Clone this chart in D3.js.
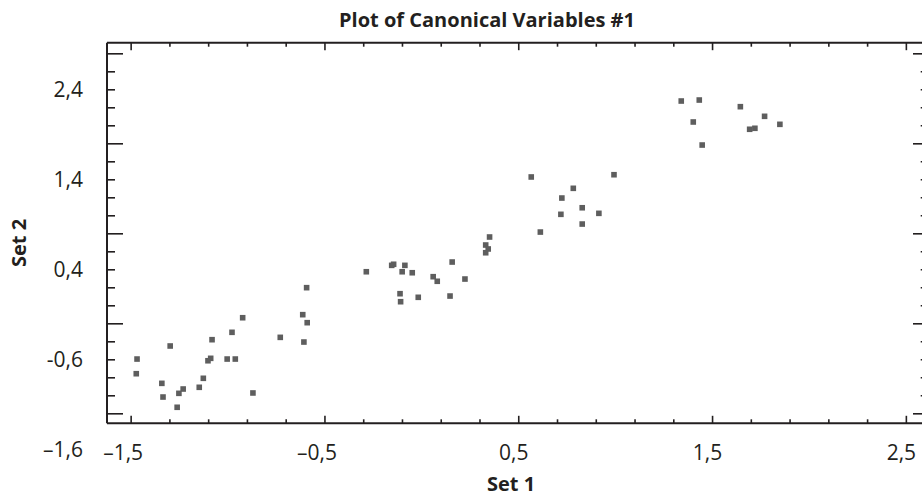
<!DOCTYPE html>
<html>
<head>
<meta charset="utf-8">
<script src="https://cdn.jsdelivr.net/npm/d3@7"></script>
<style>
  html, body { margin: 0; padding: 0; background: #fff; }
  svg { display: block; }
  text { font-family: "Open Sans", "Noto Sans", sans-serif; fill: #231f20; }
</style>
</head>
<body>
<svg id="chart" width="922" height="497"></svg>
<script>
// ---- data ----
const set1 = [
  -0.592, -0.612, -0.589, -0.922, -0.977, -0.728, -0.606, -1.080, -1.296, -1.467,
  -1.087, -1.101, -1.002, -0.960, -1.471, -1.125, -1.339, -1.229, -1.146, -1.251,
  -0.869, -1.333, -1.260,
  0.352, 0.332, 0.345, 0.332, 0.159, -0.284, -0.153, -0.143, -0.085, -0.099,
  -0.047, 0.061, 0.082, 0.225, -0.110, -0.107, -0.016, 0.148,
  0.567, 0.994, 0.784, 0.725, 0.830, 0.720, 0.916, 0.830, 0.614,
  1.341, 1.434, 1.403, 1.449, 1.646, 1.771, 1.694, 1.721, 1.850
];
const set2 = [
  0.196, -0.104, -0.193, -0.138, -0.300, -0.356, -0.408, -0.382, -0.452, -0.597,
  -0.589, -0.616, -0.597, -0.597, -0.760, -0.811, -0.867, -0.930, -0.911, -0.978,
  -0.974, -1.019, -1.133,
  0.759, 0.670, 0.626, 0.584, 0.481, 0.373, 0.444, 0.456, 0.444, 0.373,
  0.362, 0.318, 0.267, 0.292, 0.129, 0.040, 0.089, 0.103,
  1.426, 1.451, 1.300, 1.192, 1.084, 1.011, 1.022, 0.903, 0.814,
  2.270, 2.281, 2.037, 1.781, 2.207, 2.100, 1.956, 1.967, 2.011
];

const xTickValues = [-1.5, -0.5, 0.5, 1.5, 2.5];
const xTickLabels = ["\u20131,5", "\u20130,5", "0,5", "1,5", "2,5"];
const yLabelValues = [2.4, 1.4, 0.4, -0.6, -1.6];
const yTickLabels = ["2,4", "1,4", "0,4", "-0,6", "\u20131,6"];
const yMajorTicks = [2.8, 1.8, 0.8, -0.2, -1.2];
const xMinorStep = 0.2, yMinorStep = 0.2;

const chartTitle = "Plot of Canonical Variables #1";
const xTitle = "Set 1";
const yTitle = "Set 2";

// ---- layout ----
const pL = 107, pR = 923.5, pT = 42.7, pB = 423.3;
const ink = "#231f20";

const svg = d3.select("#chart");

const x = d3.scaleLinear().domain([-1.622, 2.591]).range([pL, pR]);
const y = d3.scaleLinear().domain([-1.311, 2.918]).range([pB, pT]);

const xMinor = d3.range(-1.5, 2.5001, xMinorStep).map(v => +v.toFixed(2))
  .filter(v => !xTickValues.some(m => Math.abs(m - v) < 1e-6));
const yMinor = d3.range(-1.2, 2.8001, yMinorStep).map(v => +v.toFixed(2))
  .filter(v => !yMajorTicks.some(m => Math.abs(m - v) < 1e-6));

function styleAxis(g) {
  g.select(".domain").remove();
  g.selectAll(".tick line").attr("stroke", ink).attr("stroke-width", 1.6);
}

// frame lines
[[pL, pB, pR, pB], [pL, pT, pR, pT], [pL, pT, pL, pB], [pR, pT, pR, pB]].forEach(s => {
  svg.append("line").attr("x1", s[0]).attr("y1", s[1]).attr("x2", s[2]).attr("y2", s[3])
    .attr("stroke", ink).attr("stroke-width", 2);
});

// bottom axis
svg.append("g").attr("transform", `translate(0,${pB})`)
  .call(d3.axisBottom(x).tickValues(xMinor).tickSizeInner(-4).tickSizeOuter(0).tickFormat(""))
  .call(styleAxis);
svg.append("g").attr("transform", `translate(0,${pB})`)
  .call(d3.axisBottom(x).tickValues(xTickValues).tickSizeInner(-7.5).tickSizeOuter(0)
    .tickPadding(22).tickFormat((d, i) => xTickLabels[i]))
  .call(styleAxis)
  .call(g => g.selectAll("text").attr("font-size", 21).attr("fill", ink)
    .attr("dx", d => d < 0 ? -8 : -5)
    .attr("font-family", "'Open Sans', sans-serif"));

// top axis
svg.append("g").attr("transform", `translate(0,${pT})`)
  .call(d3.axisTop(x).tickValues(xMinor).tickSizeInner(-4).tickSizeOuter(0).tickFormat(""))
  .call(styleAxis);
svg.append("g").attr("transform", `translate(0,${pT})`)
  .call(d3.axisTop(x).tickValues(xTickValues).tickSizeInner(-7.5).tickSizeOuter(0).tickFormat(""))
  .call(styleAxis);

// left axis
svg.append("g").attr("transform", `translate(${pL},0)`)
  .call(d3.axisLeft(y).tickValues(yMinor).tickSizeInner(-8).tickSizeOuter(0).tickFormat(""))
  .call(styleAxis);
svg.append("g").attr("transform", `translate(${pL},0)`)
  .call(d3.axisLeft(y).tickValues(yMajorTicks).tickSizeInner(-16).tickSizeOuter(0).tickFormat(""))
  .call(styleAxis);
svg.append("g").attr("transform", `translate(${pL},0)`)
  .call(d3.axisLeft(y).tickValues(yLabelValues).tickSizeInner(0).tickSizeOuter(0)
    .tickPadding(24).tickFormat((d, i) => yTickLabels[i]))
  .call(styleAxis)
  .call(g => g.selectAll(".tick line").remove())
  .call(g => g.selectAll("text").attr("font-size", 21).attr("fill", ink)
    .attr("font-family", "'Open Sans', sans-serif"));

// right axis
svg.append("g").attr("transform", `translate(${pR},0)`)
  .call(d3.axisRight(y).tickValues(yMinor).tickSizeInner(-2.8).tickSizeOuter(0).tickFormat(""))
  .call(styleAxis);
svg.append("g").attr("transform", `translate(${pR},0)`)
  .call(d3.axisRight(y).tickValues(yMajorTicks).tickSizeInner(-10.5).tickSizeOuter(0).tickFormat(""))
  .call(styleAxis);

// points
const pts = set1.map((v, i) => ({ x: v, y: set2[i] }));
const ms = 5.6;
svg.append("g").selectAll("rect").data(pts).join("rect")
  .attr("x", d => x(d.x) - ms / 2)
  .attr("y", d => y(d.y) - ms / 2)
  .attr("width", ms).attr("height", ms)
  .attr("fill", "#5e5e5e");

// titles
svg.append("text").attr("x", 487).attr("y", 27).attr("text-anchor", "middle")
  .attr("font-size", 20).attr("font-weight", 700).text(chartTitle);
svg.append("text").attr("x", 511).attr("y", 491).attr("text-anchor", "middle")
  .attr("font-size", 20).attr("font-weight", 700).text(xTitle);
svg.append("text").attr("transform", `translate(26,${(pT + pB) / 2 + 10}) rotate(-90)`)
  .attr("text-anchor", "middle")
  .attr("font-size", 20).attr("font-weight", 700).text(yTitle);
</script>
</body>
</html>
